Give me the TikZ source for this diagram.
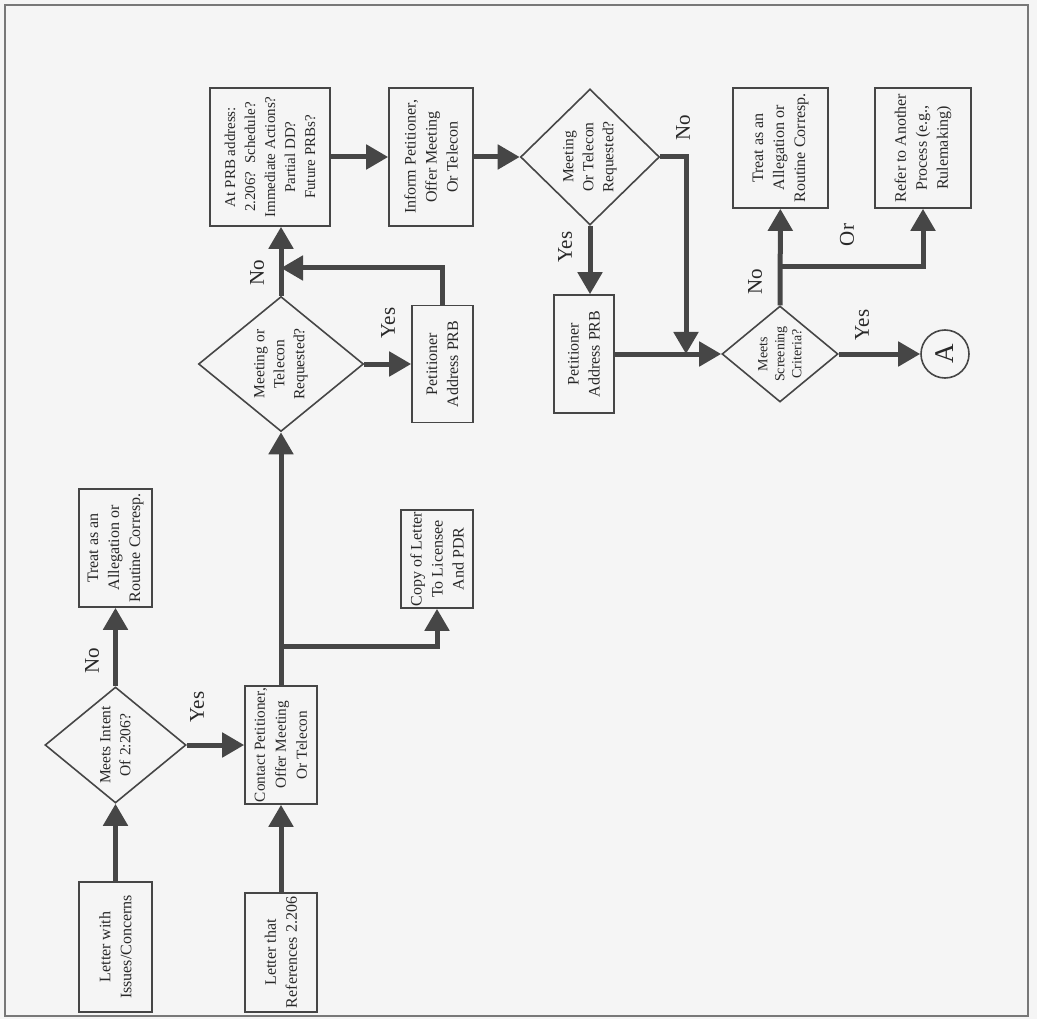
\documentclass[tikz,border=0pt]{standalone}
\usepackage{fontspec}
\setmainfont{Liberation Serif}
\usetikzlibrary{arrows.meta, shapes.geometric, positioning}
\definecolor{InkGray}{RGB}{40,40,40}
\definecolor{LineGray}{RGB}{70,70,70}
\definecolor{PaperGray}{RGB}{245,245,245}
\definecolor{FrameGray}{RGB}{120,120,120}

\begin{document}
\begin{tikzpicture}[x=1pt, y=-1pt,
  box/.style={draw=LineGray, line width=1.6pt, rotate=90, align=center, inner sep=0pt, text=InkGray, font=\fontsize{16}{21}\selectfont},
  decide/.style={diamond, aspect=0.85, draw=LineGray, line width=1.6pt, rotate=90, align=center, inner sep=0pt, text=InkGray, font=\fontsize{15.5}{20}\selectfont},
  lbl/.style={rotate=90, text=InkGray, font=\fontsize{21}{24}\selectfont},
  flow/.style={draw=LineGray, line width=5pt, -{Triangle[length=22pt,width=24pt]}}]
\useasboundingbox (0,0) rectangle (1037,1019);
\fill[PaperGray] (0,0) rectangle (1037,1019);
\draw[FrameGray, line width=2.5pt] (5,5) rectangle (1028,1016);

\node[box, minimum width=130pt, minimum height=73pt] (letA) at (115.5,947) {Letter with\\Issues/Concerns};
\node[box, minimum width=119pt, minimum height=72pt] (letB) at (281,952.5) {Letter that\\References 2.206};
\node[box, minimum width=118pt, minimum height=73pt] (treatA) at (115.5,548) {Treat as an\\Allegation or\\Routine Corresp.};
\node[decide, minimum width=116pt, minimum height=141pt] (intent) at (115.5,745) {Meets Intent\\Of 2:206?};
\node[box, minimum width=118pt, minimum height=72pt, font=\fontsize{15.3}{21}\selectfont] (contact) at (281,745) {Contact Petitioner,\\Offer Meeting\\Or Telecon};
\node[box, minimum width=98pt, minimum height=72pt] (copy) at (437,559) {Copy of Letter\\To Licensee\\And PDR};
\node[decide, minimum width=135pt, minimum height=165pt] (meetA) at (281,364) {Meeting or\\Telecon\\Requested?};
\node[box, minimum width=117pt, minimum height=61pt] (petA) at (442.5,364) {Petitioner\\Address PRB};
\node[box, minimum width=138pt, minimum height=120pt, font=\fontsize{15}{20}\selectfont] (prb) at (270,157) {At PRB address:\\2.206?\ \ Schedule?\\Immediate Actions?\\Partial DD?\\Future PRBs?};
\node[box, minimum width=138pt, minimum height=84pt] (inform) at (431,157) {Inform Petitioner,\\Offer Meeting\\Or Telecon};
\node[decide, minimum width=136pt, minimum height=139pt] (meetB) at (590,157) {Meeting\\Or Telecon\\Requested?};
\node[box, minimum width=118pt, minimum height=60pt] (petB) at (584,354) {Petitioner\\Address PRB};
\node[decide, minimum width=96pt, minimum height=116pt, font=\fontsize{14}{17}\selectfont] (screen) at (780,354) {Meets\\Screening\\Criteria?};
\node[box, minimum width=120pt, minimum height=95pt] (treatB) at (780.5,148) {Treat as an\\Allegation or\\Routine Corresp.};
\node[box, minimum width=120pt, minimum height=96pt] (refer) at (923,148) {Refer to Another\\Process (e.g.,\\Rulemaking)};
\node[circle, draw=LineGray, line width=1.6pt, rotate=90, minimum size=48pt, inner sep=0pt, text=InkGray, font=\fontsize{27}{27}\selectfont] (circA) at (945,354) {A};

\coordinate (jA) at (281,646);
\coordinate (jB) at (281,268);
\coordinate (jC) at (686,354);
\coordinate (jD) at (780,267);

\draw[flow] (letA) -- (intent);
\draw[flow] (intent) -- (treatA);
\draw[flow] (intent) -- (contact);
\draw[flow] (letB) -- (contact);
\draw[flow] (contact) -- (meetA);
\draw[flow] (jA) -| (copy);
\draw[flow] (meetA) -- (meetA |- prb.west);
\draw[flow] (meetA) -- (petA);
\draw[flow] (petA) |- (jB);
\draw[flow] (prb) -- (inform);
\draw[flow] (inform) -- (meetB);
\draw[flow] (meetB) -- (meetB |- petB.east);
\draw[flow] (meetB) -| (jC);
\draw[flow] (petB) -- (screen);
\draw[flow] (screen) -- (treatB);
\draw[flow] (jD) -| (refer);
\draw[flow] (screen) -- (circA);

\node[lbl] (noA) at (92,661) {No};
\node[lbl] (yesA) at (197,707) {Yes};
\node[lbl] (noB) at (257,273) {No};
\node[lbl] (yesB) at (388,323) {Yes};
\node[lbl] (noC) at (683,128) {No};
\node[lbl] (yesC) at (565,247) {Yes};
\node[lbl] (noD) at (755,282) {No};
\node[lbl] (orD) at (847,235) {Or};
\node[lbl] (yesD) at (862,325) {Yes};
\end{tikzpicture}
\end{document}
